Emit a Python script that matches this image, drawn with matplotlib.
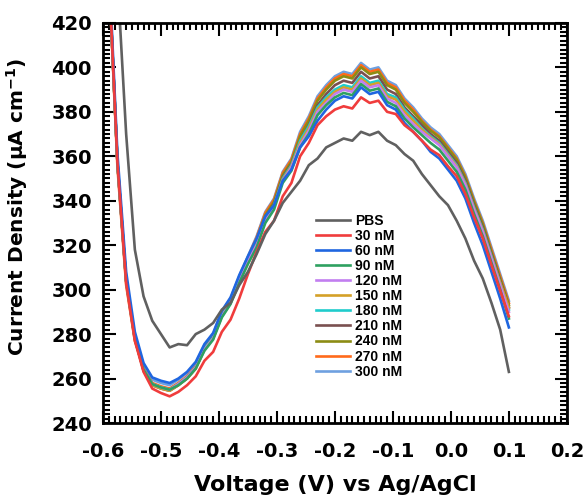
import numpy as np
import matplotlib
matplotlib.use("Agg")
import matplotlib.pyplot as plt
from matplotlib.ticker import MultipleLocator

plt.rcParams['font.family'] = ['DejaVu Sans']
plt.rcParams['font.weight'] = 'bold'
plt.rcParams['mathtext.default'] = 'bf'

voltage = [-0.590, -0.575, -0.560, -0.545, -0.530, -0.515, -0.500, -0.485, -0.470, -0.455,
           -0.440, -0.425, -0.410, -0.395, -0.380, -0.365, -0.350, -0.335, -0.320, -0.305,
           -0.290, -0.275, -0.260, -0.245, -0.230, -0.215, -0.200, -0.185, -0.170, -0.155,
           -0.140, -0.125, -0.110, -0.095, -0.080, -0.065, -0.050, -0.035, -0.020, -0.005,
           0.010, 0.025, 0.040, 0.055, 0.070, 0.085, 0.100]

pbs = [520, 440, 370, 318, 297, 286, 280, 274, 275.5, 275,
       280, 282, 285, 291, 294, 302, 308, 316, 325, 331,
       339, 344, 349, 356, 359, 364, 366, 368, 367, 371,
       369.5, 371, 367, 365, 361, 358, 352, 347, 342, 338,
       331, 323, 313, 305, 294, 282, 263]
nm30 = [444, 357, 303, 277, 263, 255.5, 253.5, 252, 254, 257,
        261, 268, 272, 281, 286.5, 296, 307, 317, 326, 331,
        342, 348, 360, 366, 374, 378, 381, 382.5, 381.5, 386.5,
        384, 385, 380, 379, 374, 371, 367, 363, 360.5, 355.5,
        351, 343, 332.5, 323, 311, 299.5, 288]
nm60 = [448, 361, 308, 281, 267, 260.5, 259, 258, 260, 263,
        267.5, 275.5, 280.5, 290.5, 296.5, 306.5, 315, 323, 333, 338,
        349, 354, 364, 369, 376, 381, 385, 387, 386, 391,
        388, 389, 383, 381, 375, 371, 367, 362, 359, 354,
        349, 341, 330, 320, 308, 296, 283]
nm90 = [444, 357, 304, 278, 264, 257.5, 256, 255, 257, 260,
        264.5, 272.5, 277.5, 287.5, 293.5, 303, 311.5, 319, 330, 336,
        348, 353.5, 364, 370, 378.5, 383, 386.5, 388.5, 387.5, 392.5,
        389.5, 390.5, 384.5, 382.5, 377, 373, 369.5, 366, 363, 358,
        353, 345, 334, 324, 312, 300, 287]
nm120 = [444, 357, 304, 278, 264, 257.5, 256, 255, 257.5, 260.5,
         265, 273, 278, 288, 294, 304, 313, 320, 331, 337,
         349, 355, 365, 371.5, 380, 384, 388, 390, 389, 394,
         391, 392, 386, 384, 378.5, 374.5, 371, 368, 365, 360,
         355, 347, 336, 326, 314, 302, 290]
nm150 = [444, 357, 304, 278, 263.5, 257, 255.5, 254.5, 257, 260,
         264.5, 273, 278, 288, 294, 304, 313, 320.5, 331.5, 337.5,
         349.5, 355.5, 366, 372.5, 381, 385.5, 389, 391, 390, 395,
         392, 393, 387, 385.5, 380, 376, 372, 368.5, 365.5, 360.5,
         355.5, 347.5, 336.5, 326.5, 314.5, 303, 292]
nm180 = [444, 357, 304, 278, 264, 257.5, 256, 255, 257.5, 260.5,
         265, 273.5, 278.5, 288.5, 294.5, 304.5, 313.5, 321, 332, 338,
         350, 356, 367, 373.5, 382, 386.5, 390, 392, 391, 396,
         393, 394, 388, 386.5, 381, 377, 372.5, 369, 366, 361,
         356, 348, 337, 327, 315, 303, 291]
nm210 = [444, 357, 304, 278, 263.5, 257, 255.5, 254.5, 257, 260,
         264.5, 273.5, 278.5, 288.5, 294.5, 304.5, 313.5, 321.5, 332.5, 338.5,
         350.5, 356.5, 367, 374, 383, 388, 392, 394, 393, 398,
         395, 396, 390, 388, 382, 378, 374, 370, 367, 362,
         357, 349, 338, 328, 316, 304, 292]
nm240 = [444, 357, 304, 278, 264, 257.5, 256, 255, 257.5, 260.5,
         265, 274, 279, 289, 295, 305, 314, 322.5, 333.5, 339.5,
         351.5, 357.5, 369, 376, 385, 390, 394, 396, 395, 400,
         397, 398, 392, 390, 384, 380, 375.5, 371.5, 368.5, 363.5,
         358.5, 350.5, 339.5, 329.5, 317, 305, 293]
nm270 = [443, 355, 302, 277, 264.5, 258, 256.5, 255.5, 258, 261,
         265.5, 274.5, 279.5, 289.5, 295.5, 305.5, 314.5, 323.5, 334.5, 340.5,
         352.5, 358.5, 370, 377, 386, 391, 395, 397, 396, 401,
         398, 399, 393, 391, 385, 381, 376, 372, 369, 364,
         359, 351, 340, 330, 318, 306, 294]
nm300 = [445, 358, 305, 279, 266, 259.5, 258, 257, 259.5, 262.5,
         267, 275, 280, 290, 296, 306, 315, 324, 335, 341,
         353, 359, 371, 378, 387, 392, 396, 398, 397, 402,
         399, 400, 394, 392, 386, 382, 377, 373, 370, 365,
         360, 352, 341, 331, 319, 307, 295]

labels = ['PBS', '30 nM', '60 nM', '90 nM', '120 nM', '150 nM', '180 nM',
          '210 nM', '240 nM', '270 nM', '300 nM']
series = [pbs, nm30, nm60, nm90, nm120, nm150, nm180, nm210, nm240, nm270, nm300]
colors = ['#606060', '#f03c3c', '#1f66e0', '#2ea060', '#c27ef0', '#d4a028',
          '#20cccc', '#7a5050', '#8c8c14', '#ff6a1a', '#6fa0e0']
xticklabels = ['-0.6', '-0.5', '-0.4', '-0.3', '-0.2', '-0.1', '0.0', '0.1', '0.2']

fig = plt.figure(figsize=(5.85, 4.98), dpi=100)
ax = fig.add_axes([0.176, 0.1506, 0.793, 0.8034])

handles = []
for i in range(len(series) - 1, -1, -1):
    h, = ax.plot(voltage, series[i], color=colors[i], lw=1.9, label=labels[i])
    handles.append(h)
handles = handles[::-1]

ax.set_xlim(-0.6, 0.2)
ax.set_ylim(240, 420)
ax.set_xticks(np.arange(-0.6, 0.21, 0.1))
ax.set_xticklabels(xticklabels)
ax.xaxis.set_minor_locator(MultipleLocator(0.01))
ax.yaxis.set_major_locator(MultipleLocator(20))
ax.yaxis.set_minor_locator(MultipleLocator(2))
ax.tick_params(which='both', direction='in', top=True, right=True, width=1.5)
ax.tick_params(which='major', length=9, labelsize=14)
ax.tick_params(axis='x', which='major', pad=14)
ax.tick_params(axis='y', which='major', pad=8)
ax.tick_params(which='minor', length=5)
for s in ax.spines.values():
    s.set_linewidth(2)
for t in ax.get_xticklabels() + ax.get_yticklabels():
    t.set_fontweight('bold')

ax.set_xlabel('Voltage (V) vs Ag/AgCl', fontsize=16, fontweight='bold', labelpad=10)
ax.set_ylabel('Current Density (\u03bcA cm$^{-1}$)', fontsize=14.5, fontweight='bold')
ax.yaxis.set_label_coords(-0.158, 0.54)

leg = ax.legend(handles, labels, loc='upper left', bbox_to_anchor=(0.447, 0.5375),
                frameon=False, handlelength=2.45, handletextpad=0.36,
                labelspacing=0.08, borderaxespad=0,
                prop={'family': 'Liberation Sans', 'weight': 'bold', 'size': 10})

fig.savefig('out.png', dpi=100)
